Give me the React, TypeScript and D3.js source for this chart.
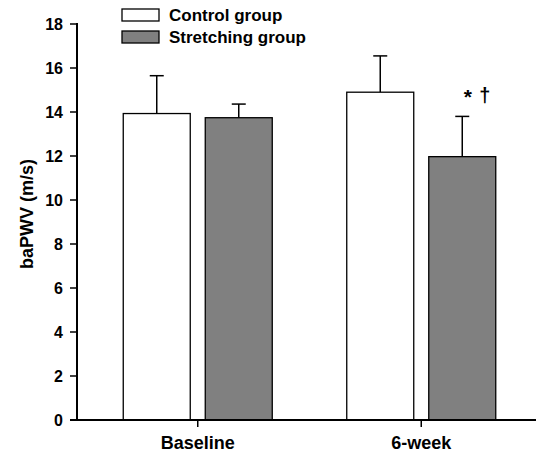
import React from "react";
import * as d3 from "d3";

const categories = ["Baseline", "6-week"];
const seriesNames = ["Control group", "Stretching group"];
const controlMeans = [13.93, 14.9];
const controlSD = [1.72, 1.65];
const stretchMeans = [13.74, 11.97];
const stretchSD = [0.62, 1.83];
const yTicks = [0, 2, 4, 6, 8, 10, 12, 14, 16, 18];
const seriesColors = ["#ffffff", "#808080"];
const annotationMarks = ["*", "†"];

const W = 536;
const H = 453;
const FONT = "Arial, 'Liberation Sans', sans-serif";

export default function App() {
  const y = d3.scaleLinear().domain([0, 18]).range([420, 24]);
  const x = d3.scaleBand<string>().domain(categories).range([86, 533]).padding(0);
  const inner = d3
    .scaleBand<number>()
    .domain([0, 1])
    .range([37.25, x.bandwidth() - 37.25])
    .paddingInner(0.183)
    .paddingOuter(0);

  const means = [controlMeans, stretchMeans];
  const sds = [controlSD, stretchSD];

  return (
    <svg
      width={W}
      height={H}
      style={{ position: "absolute", left: 0, top: 0, background: "#fff" }}
      fontFamily={FONT}
    >
      {/* bars */}
      {categories.map((c, ci) =>
        [0, 1].map((si) => {
          const x0 = (x(c) as number) + (inner(si) as number);
          const bw = inner.bandwidth();
          const v = means[si][ci];
          const top = y(v);
          const errTop = y(v + sds[si][ci]);
          const cx = x0 + bw / 2;
          return (
            <g key={c + si}>
              <line x1={cx} x2={cx} y1={top} y2={errTop} stroke="#000" strokeWidth={1.5} />
              <line x1={cx - 7} x2={cx + 7} y1={errTop} y2={errTop} stroke="#000" strokeWidth={1.5} />
              <rect
                x={x0}
                y={top}
                width={bw}
                height={y(0) - top}
                fill={seriesColors[si]}
                stroke="#000"
                strokeWidth={1.3}
              />
              {si === 1 && ci === 1 ? (
                <g>
                  <text x={cx + 5.5} y={errTop - 12} textAnchor="middle" fontSize={21} fontWeight="bold">
                    {annotationMarks[0]}
                  </text>
                  <text x={cx + 22.5} y={errTop - 14} textAnchor="middle" fontSize={20} fontWeight="bold">
                    {annotationMarks[1]}
                  </text>
                </g>
              ) : null}
            </g>
          );
        })
      )}

      {/* y axis */}
      <line x1={77} x2={77} y1={y(18) - 1} y2={y(0) + 1} stroke="#000" strokeWidth={2} />
      {yTicks.map((t) => (
        <g key={t}>
          <line x1={70} x2={77} y1={y(t)} y2={y(t)} stroke="#000" strokeWidth={1.5} />
          <text
            x={63}
            y={y(t)}
            dy="0.35em"
            textAnchor="end"
            fontSize={16}
            fontWeight="bold"
          >
            {t}
          </text>
        </g>
      ))}

      {/* x axis */}
      <line x1={70} x2={W} y1={y(0)} y2={y(0)} stroke="#000" strokeWidth={2} />
      {categories.map((c) => {
        const cx = (x(c) as number) + x.bandwidth() / 2;
        return (
          <g key={c}>
            <line x1={cx} x2={cx} y1={y(0)} y2={y(0) + 7} stroke="#000" strokeWidth={1.5} />
            <text x={cx} y={449} textAnchor="middle" fontSize={18} fontWeight="bold">
              {c}
            </text>
          </g>
        );
      })}

      {/* y label */}
      <text
        transform={`translate(33, 214) rotate(-90)`}
        textAnchor="middle"
        fontSize={18}
        fontWeight="bold"
      >
        baPWV (m/s)
      </text>

      {/* legend */}
      {seriesNames.map((n, i) => (
        <g key={n} transform={`translate(122, ${9 + i * 22})`}>
          <rect x={0} y={0} width={37} height={12} fill={seriesColors[i]} stroke="#000" strokeWidth={1.3} />
          <text x={47} y={12} fontSize={17} fontWeight="bold">
            {n}
          </text>
        </g>
      ))}
    </svg>
  );
}
